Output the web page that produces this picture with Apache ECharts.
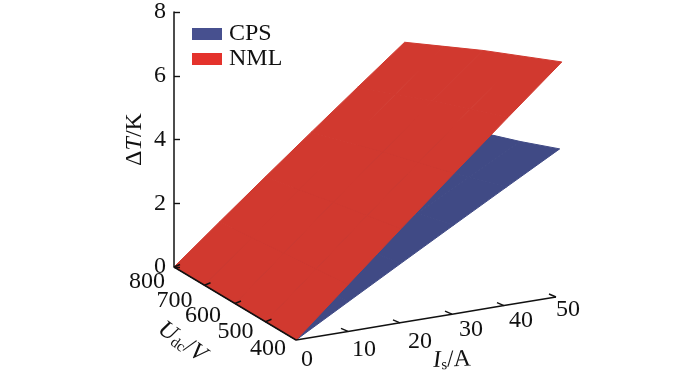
<!DOCTYPE html>
<html>
<head>
<meta charset="utf-8">
<style>
html, body { margin: 0; padding: 0; background: #fff; }
#main { width: 700px; height: 380px; }
</style>
</head>
<body>
<div id="main"></div>
<script src="https://cdn.jsdelivr.net/npm/echarts@6/dist/echarts.min.js"></script>
<script>
// values
var isTicks = [0, 10, 20, 30, 40, 50]
var udcTicks = [400, 500, 600, 700, 800]
var dtTicks = [0, 2, 4, 6, 8]

// rows follow udcTicks, columns follow isTicks
var cpsRise = [
  [0, 0.92, 1.84, 2.76, 3.68, 4.6],
  [0, 0.86, 1.72, 2.58, 3.44, 4.3],
  [0, 0.81, 1.62, 2.43, 3.24, 4.05],
  [0, 0.75, 1.5, 2.25, 3.0, 3.75],
  [0, 0.7, 1.4, 2.1, 2.8, 3.5]
]
var nmlRise = [
  [0, 1.46, 2.92, 4.38, 5.84, 7.3],
  [0, 1.39, 2.78, 4.17, 5.56, 6.95],
  [0, 1.32, 2.64, 3.96, 5.28, 6.6],
  [0, 1.24, 2.48, 3.72, 4.96, 6.2],
  [0, 1.16, 2.32, 3.48, 4.64, 5.8]
]

var serif = '"Liberation Serif", "Times New Roman", serif'

// oblique view of the base plane: pixel position of the four base corners
var cornerBack = [174, 267]    // Is 0, Udc 800
var cornerFront = [296, 340]   // Is 0, Udc 400
var cornerRight = [556, 297]   // Is 50, Udc 400
var cornerFar = [400, 229]     // Is 50, Udc 800
var perKelvin = 32.2

// label nudges from the tick, same order as the tick lists
var isLabelOffset = [[11, 20], [16, 18], [20, 19], [19, 16], [17, 15], [12, 13]]
var udcLabelOffset = [[-28, 9], [-30, 10], [-32, 12.5], [-30, 15], [-27, 15]]

function project (is, udc, dt) {
  var s = is / 50
  var t = (800 - udc) / 400
  var x = (1 - s) * ((1 - t) * cornerBack[0] + t * cornerFront[0]) + s * ((1 - t) * cornerFar[0] + t * cornerRight[0])
  var y = (1 - s) * ((1 - t) * cornerBack[1] + t * cornerFront[1]) + s * ((1 - t) * cornerFar[1] + t * cornerRight[1])
  return [x + dt * 0.8 * s, y - dt * perKelvin]
}

function surfaceCells () {
  var cells = []
  for (var r = 0; r < udcTicks.length - 1; r++) {
    for (var c = 0; c < isTicks.length - 1; c++) {
      cells.push([r, c])
    }
  }
  return cells
}

function surfaceItem (rise, color) {
  return function (params, api) {
    var r = api.value(0)
    var c = api.value(1)
    var pts = [[r, c], [r, c + 1], [r + 1, c + 1], [r + 1, c]].map(function (k) {
      return api.coord(project(isTicks[k[1]], udcTicks[k[0]], rise[k[0]][k[1]]))
    })
    return {
      type: 'polygon',
      shape: { points: pts },
      style: { fill: color, stroke: color, lineWidth: 1 }
    }
  }
}

function tickItem (getPoint, dir, offsets, bare) {
  return function (params, api) {
    var v = api.value(0)
    var p = api.coord(getPoint(v))
    var off = offsets[params.dataIndex]
    var children = [{
      type: 'text',
      style: {
        text: String(v),
        x: p[0] + off[0],
        y: p[1] + off[1],
        align: 'center',
        verticalAlign: 'middle',
        font: '24px ' + serif,
        fill: '#111'
      }
    }]
    if (v !== bare) {
      children.push({
        type: 'line',
        shape: { x1: p[0], y1: p[1], x2: p[0] + dir[0], y2: p[1] + dir[1] },
        style: { stroke: '#111', lineWidth: 1.4 }
      })
    }
    return { type: 'group', children: children }
  }
}

function hiddenAxis (grid, min, max, inverse) {
  return { type: 'value', gridIndex: grid, min: min, max: max, inverse: inverse, show: false }
}

function titleSeries (x, y, rotation, text, rich) {
  return {
    type: 'custom',
    xAxisIndex: 1,
    yAxisIndex: 1,
    silent: true,
    z: 6,
    data: [[x, y]],
    renderItem: function (params, api) {
      var p = api.coord([api.value(0), api.value(1)])
      return {
        type: 'text',
        x: p[0],
        y: p[1],
        rotation: rotation,
        style: { text: text, rich: rich, align: 'center', verticalAlign: 'middle', font: '24px ' + serif, fill: '#111' }
      }
    }
  }
}

var titleRich = {
  n: { fontFamily: serif, fontSize: 24, color: '#111' },
  i: { fontFamily: serif, fontSize: 24, fontStyle: 'italic', color: '#111' },
  sub: { fontFamily: serif, fontSize: 15, color: '#111', padding: [10, 0, 0, 0] }
}

var chart = echarts.init(document.getElementById('main'))
chart.setOption({
  animation: false,
  backgroundColor: '#fff',
  legend: {
    orient: 'vertical',
    left: 192,
    top: 22,
    padding: 0,
    itemWidth: 30,
    itemHeight: 12,
    itemGap: 1,
    icon: 'rect',
    textStyle: { fontFamily: serif, fontSize: 24, color: '#111', padding: [0, 0, 0, 2] },
    data: [
      { name: 'CPS', itemStyle: { color: '#47508f' } },
      { name: 'NML', itemStyle: { color: '#e4322c' } }
    ]
  },
  grid: [
    { left: 174, top: 10, width: 300, height: 257 },
    { left: 0, top: 0, width: 700, height: 380 }
  ],
  xAxis: [
    hiddenAxis(0, 0, 1, false),
    hiddenAxis(1, 0, 700, false)
  ],
  yAxis: [
    {
      type: 'value',
      gridIndex: 0,
      min: dtTicks[0],
      max: dtTicks[dtTicks.length - 1],
      interval: 2,
      z: 10,
      axisLine: { show: true, lineStyle: { color: '#111', width: 1.5 } },
      axisTick: { show: true, inside: true, length: 6, lineStyle: { color: '#111', width: 1.4 } },
      axisLabel: { fontFamily: serif, fontSize: 24, color: '#111', margin: 8 },
      splitLine: { show: false },
      name: '{n|Δ}{i|T}{n|/K}',
      nameLocation: 'middle',
      nameRotate: 90,
      nameGap: 27,
      nameTextStyle: { rich: titleRich }
    },
    hiddenAxis(1, 0, 380, true)
  ],
  series: [
    {
      name: 'CPS',
      type: 'custom',
      xAxisIndex: 1,
      yAxisIndex: 1,
      silent: true,
      z: 2,
      itemStyle: { color: '#47508f' },
      data: surfaceCells(),
      renderItem: surfaceItem(cpsRise, '#404a85')
    },
    {
      name: 'NML',
      type: 'custom',
      xAxisIndex: 1,
      yAxisIndex: 1,
      silent: true,
      z: 3,
      itemStyle: { color: '#e4322c' },
      data: surfaceCells(),
      renderItem: surfaceItem(nmlRise, '#d1392f')
    },
    {
      type: 'line',
      xAxisIndex: 1,
      yAxisIndex: 1,
      silent: true,
      z: 5,
      symbol: 'none',
      lineStyle: { color: '#111', width: 1.5 },
      data: isTicks.map(function (v) { return project(v, 400, 0) })
    },
    {
      type: 'line',
      xAxisIndex: 1,
      yAxisIndex: 1,
      silent: true,
      z: 5,
      symbol: 'none',
      lineStyle: { color: '#111', width: 1.5 },
      data: udcTicks.map(function (v) { return project(0, v, 0) })
    },
    {
      type: 'custom',
      xAxisIndex: 1,
      yAxisIndex: 1,
      silent: true,
      z: 6,
      data: isTicks.map(function (v) { return [v] }),
      renderItem: tickItem(function (v) { return project(v, 400, 0) }, [-7, -3], isLabelOffset, 0)
    },
    {
      type: 'custom',
      xAxisIndex: 1,
      yAxisIndex: 1,
      silent: true,
      z: 6,
      data: udcTicks.map(function (v) { return [v] }),
      renderItem: tickItem(function (v) { return project(0, v, 0) }, [6, -2.5], udcLabelOffset, 400)
    },
    titleSeries(182, 342, -0.62, '{i|U}{sub|dc}{n|/}{i|V}', titleRich),
    titleSeries(452, 360, 0.04, '{i|I}{sub|s}{n|/A}', titleRich)
  ]
})
</script>
</body>
</html>
